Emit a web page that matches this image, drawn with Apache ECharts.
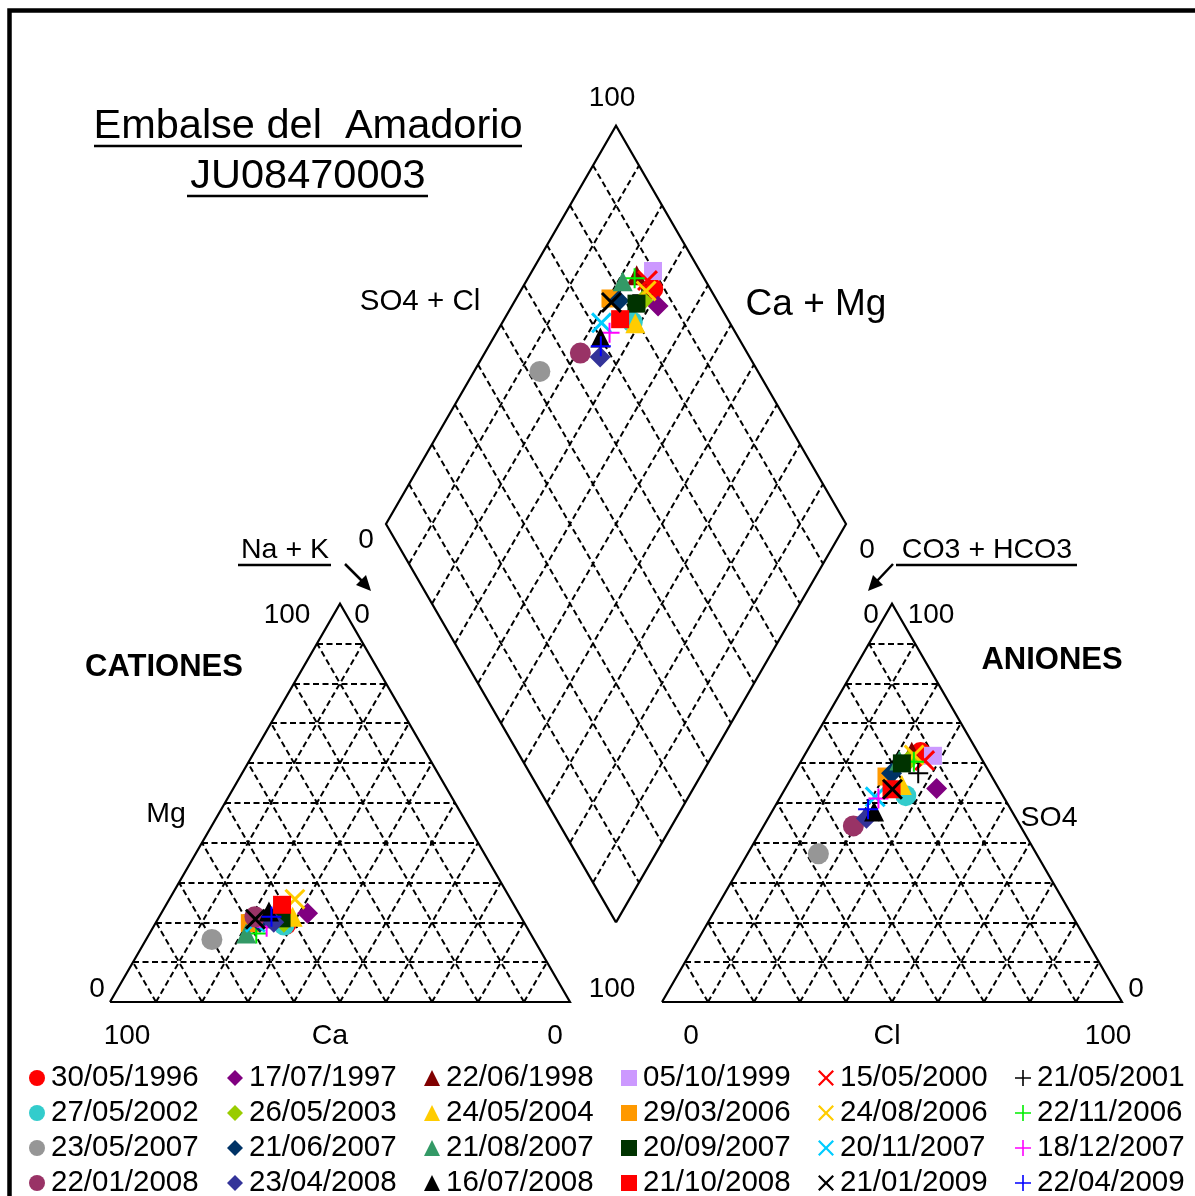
<!DOCTYPE html>
<html>
<head>
<meta charset="utf-8">
<script src="https://cdn.jsdelivr.net/npm/echarts@6/dist/echarts.min.js"></script>
<style>
html, body { margin: 0; padding: 0; background: #fff; }
#chart { width: 1195px; height: 1196px; }
</style>
</head>
<body>
<div id="chart"></div>
<script>
// muestras (porcentajes en meq/l)
var dates = ['30/05/1996', '17/07/1997', '22/06/1998', '05/10/1999', '15/05/2000', '21/05/2001',
             '27/05/2002', '26/05/2003', '24/05/2004', '29/03/2006', '24/08/2006', '22/11/2006',
             '23/05/2007', '21/06/2007', '21/08/2007', '20/09/2007', '20/11/2007', '18/12/2007',
             '22/01/2008', '23/04/2008', '16/07/2008', '21/10/2008', '21/01/2009', '22/04/2009'];
var naK = [28.5, 31.8, 23.3, 26.3, 26.3, 27.0, 28.2, 27.8, 29.0, 20.5, 27.3, 23.2,
           14.3, 22.6, 21.0, 26.8, 21.6, 24.6, 20.8, 25.6, 23.2, 25.2, 21.2, 24.4];
var mg  = [19.5, 22.3, 21.0, 22.0, 21.0, 20.0, 19.3, 20.0, 21.4, 19.8, 25.8, 17.2,
           15.7, 20.0, 17.2, 21.0, 20.0, 18.9, 21.4, 20.0, 22.7, 24.4, 20.8, 21.4];
var cl  = [24.9, 32.9, 22.9, 28.0, 26.8, 27.0, 27.1, 23.3, 24.9, 20.5, 23.8, 24.6,
           15.4, 21.2, 21.3, 22.2, 20.6, 21.5, 19.5, 21.4, 22.2, 23.2, 23.4, 20.6];
var so4 = [62.6, 53.6, 62.8, 61.8, 60.6, 57.4, 51.8, 60.5, 54.5, 56.6, 62.0, 60.3,
           37.2, 57.4, 60.6, 59.9, 51.5, 51.1, 44.2, 46.1, 47.8, 53.4, 53.4, 48.4];
var colors = ['#FF0000', '#800080', '#800000', '#CC99FF', '#FF0000', '#000000',
              '#33CCCC', '#99CC00', '#FFCC00', '#FF9900', '#FFCC00', '#00EE00',
              '#969696', '#003366', '#339966', '#003300', '#00CCFF', '#FF00FF',
              '#993366', '#333399', '#000000', '#FF0000', '#000000', '#0000FF'];
var shapes = ['circle', 'diamond', 'triangle', 'rect', 'x', 'plus',
              'circle', 'diamond', 'triangle', 'rect', 'x', 'plus',
              'circle', 'diamond', 'triangle', 'rect', 'x', 'plus',
              'circle', 'diamond', 'triangle', 'rect', 'x', 'plus'];

var H = Math.sqrt(3) / 2;
var OFF = 120; // inicio del triangulo de aniones
var FONT = '"Liberation Sans", Arial, sans-serif';

var symbolPath = {
    circle: 'circle',
    diamond: 'diamond',
    triangle: 'triangle',
    rect: 'rect',
    x: 'path://M0,2 L2,0 L10,8 L18,0 L20,2 L12,10 L20,18 L18,20 L10,12 L2,20 L0,18 L8,10 Z',
    plus: 'path://M9,0 L11,0 L11,9 L20,9 L20,11 L11,11 L11,20 L9,20 L9,11 L0,11 L0,9 L9,9 Z'
};
var symbolSize = { circle: 21, diamond: 21, triangle: 20, rect: 18, x: 21, plus: 20 };

function catXY(na, m) { return [na + m / 2, m * H]; }
function anXY(c, s) { return [OFF + c + s / 2, s * H]; }
function diaXY(na, c, s) {
    var p = na, q = OFF + c + s;
    return [(p + q) / 2, (q - p) * H];
}

// lineas de los triangulos y del rombo
function triOutline(o) {
    return [[o, 0], [o + 100, 0], [o + 50, 100 * H], [o, 0]];
}
function triGrid(o) {
    var segs = [];
    for (var k = 10; k < 100; k += 10) {
        segs.push({ coords: [[o + k / 2, k * H], [o + 100 - k / 2, k * H]] });
        segs.push({ coords: [[o + k, 0], [o + k + (100 - k) / 2, (100 - k) * H]] });
        segs.push({ coords: [[o + k, 0], [o + k / 2, k * H]] });
    }
    return segs;
}
function diaGrid() {
    var segs = [];
    for (var k = 10; k < 100; k += 10) {
        segs.push({ coords: [diaXY(k, 0, 0), diaXY(k, 100, 0)] });
        segs.push({ coords: [diaXY(0, k, 0), diaXY(100, k, 0)] });
    }
    return segs;
}
var diaOutline = [diaXY(100, 0, 0), diaXY(0, 0, 0), diaXY(0, 100, 0), diaXY(100, 100, 0), diaXY(100, 0, 0)];

var chart = echarts.init(document.getElementById('chart'));

var series = [
    {
        type: 'lines', coordinateSystem: 'cartesian2d', silent: true, z: 1,
        lineStyle: { color: '#000', width: 2, type: [6, 3.5], opacity: 1 },
        data: triGrid(0).concat(triGrid(OFF)).concat(diaGrid())
    },
    {
        type: 'lines', coordinateSystem: 'cartesian2d', polyline: true, silent: true, z: 2,
        lineStyle: { color: '#000', width: 2.2, opacity: 1 },
        data: [{ coords: triOutline(0) }, { coords: triOutline(OFF) }, { coords: diaOutline }]
    }
];

for (var i = 0; i < dates.length; i++) {
    series.push({
        name: dates[i],
        type: 'scatter',
        z: 3 + i,
        symbol: symbolPath[shapes[i]],
        symbolSize: symbolSize[shapes[i]],
        itemStyle: { color: colors[i], opacity: 1 },
        data: [catXY(naK[i], mg[i]), anXY(cl[i], so4[i]), diaXY(naK[i], cl[i], so4[i])]
    });
}

var colLeft = [29, 227, 424, 621, 818, 1015];
var rowTop = [1063, 1098, 1133, 1168];
var legends = dates.map(function (d, i) {
    return {
        data: [d],
        left: colLeft[i % 6],
        top: rowTop[Math.floor(i / 6)],
        padding: 0,
        itemWidth: 16,
        itemHeight: 16,
        selectedMode: false,
        textStyle: { fontSize: 29.5, color: '#000', fontFamily: FONT, padding: [0, 0, 0, 1] }
    };
});

function txt(s, x, y, size, align, bold) {
    return {
        type: 'text', z: 100,
        style: {
            text: s, x: x, y: y,
            font: (bold ? 'bold ' : '') + size + 'px ' + FONT,
            fill: '#000',
            align: align || 'center', verticalAlign: 'middle',
            textAlign: align || 'center', textVerticalAlign: 'middle'
        }
    };
}
function uline(x1, x2, y) {
    return { type: 'line', z: 100, shape: { x1: x1, y1: y, x2: x2, y2: y }, style: { stroke: '#000', lineWidth: 2.5 } };
}

var graphics = [
    { type: 'rect', z: 100, shape: { x: 9.5, y: 10.5, width: 1220, height: 1220 }, style: { fill: null, stroke: '#000', lineWidth: 4.5 } },
    txt('Embalse del  Amadorio', 308, 127, 41.5),
    uline(94, 522, 146),
    txt('JU08470003', 308, 177, 41.5),
    uline(187, 428, 196),
    txt('100', 612, 98, 28),
    txt('SO4 + Cl', 420, 302, 29.5),
    txt('Ca + Mg', 816, 305, 37),
    txt('0', 366, 540, 28),
    txt('0', 867, 550, 28),
    txt('Na + K', 285, 550, 28.5),
    uline(238, 331, 565),
    txt('CO3 + HCO3', 987, 550, 28.5),
    uline(896, 1077, 565),
    { type: 'line', z: 100, shape: { x1: 345, y1: 564, x2: 363, y2: 582 }, style: { stroke: '#000', lineWidth: 2.5 } },
    { type: 'polygon', z: 100, shape: { points: [[371, 591], [356, 585], [366, 575]] }, style: { fill: '#000' } },
    { type: 'line', z: 100, shape: { x1: 893, y1: 564, x2: 876, y2: 582 }, style: { stroke: '#000', lineWidth: 2.5 } },
    { type: 'polygon', z: 100, shape: { points: [[868, 591], [883, 585], [873, 575]] }, style: { fill: '#000' } },
    txt('100', 287, 615, 28),
    txt('0', 362, 615, 28),
    txt('CATIONES', 164, 667, 31, 'center', true),
    txt('Mg', 166, 814, 28.5),
    txt('0', 97, 989, 28),
    txt('100', 612, 989, 28),
    txt('100', 127, 1036, 28),
    txt('Ca', 330, 1036, 28.5),
    txt('0', 555, 1036, 28),
    txt('0', 871, 615, 28),
    txt('100', 931, 615, 28),
    txt('ANIONES', 1052, 660, 31, 'center', true),
    txt('SO4', 1049, 818, 28.5),
    txt('0', 1136, 989, 28),
    txt('0', 691, 1036, 28),
    txt('Cl', 887, 1036, 28.5),
    txt('100', 1108, 1036, 28)
];

chart.setOption({
    animation: false,
    backgroundColor: '#fff',
    grid: { left: 110, top: 82, width: 1012, height: 920 },
    xAxis: { type: 'value', min: 0, max: 220, show: false },
    yAxis: { type: 'value', min: 0, max: 200, show: false },
    legend: legends,
    graphic: graphics,
    series: series
});
</script>
</body>
</html>
